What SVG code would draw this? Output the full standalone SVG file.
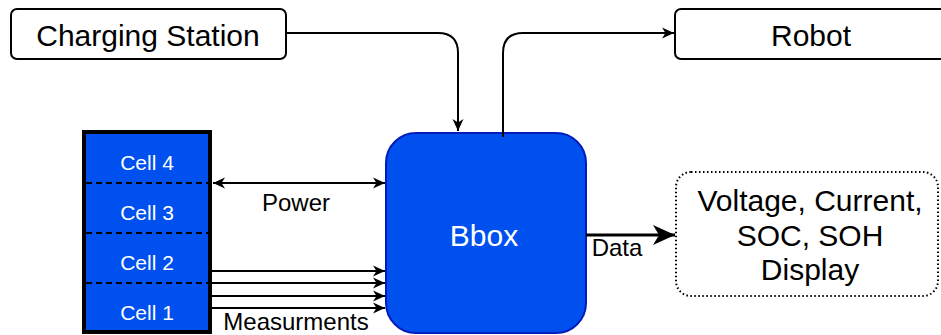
<svg xmlns="http://www.w3.org/2000/svg" width="941" height="335" viewBox="0 0 941 335">
<style>
text{font-family:"Liberation Sans",Arial,sans-serif;text-anchor:middle}
.box{fill:#fff;stroke:#000;stroke-width:2}
.lbl{font-size:30px;fill:#000}
.cell{fill:#0050EF;stroke:none}
.ctext{font-size:21px;fill:#fff}
.sep{stroke:#000;stroke-width:2;stroke-dasharray:6 4}
.conn{fill:none;stroke:#000;stroke-width:2}
.small{font-size:24px;fill:#000}
</style>
<defs>
<marker id="ah" markerUnits="userSpaceOnUse" markerWidth="14" markerHeight="12" refX="12" refY="6" orient="auto-start-reverse">
<path d="M0,0.5 L12,6 L0,11.5 L3.5,6 Z" fill="#000"/>
</marker>
<marker id="ahb" markerUnits="userSpaceOnUse" markerWidth="24" markerHeight="20" refX="22" refY="10" orient="auto">
<path d="M0,0 L22,10 L0,20 L6,10 Z" fill="#000"/>
</marker>
</defs>
<g id="charging-station">
<rect class="box" x="11" y="9" width="275" height="50" rx="6"/>
<text class="lbl" x="148" y="46">Charging Station</text>
</g>
<g id="robot">
<rect class="box" x="675" y="9" width="280" height="50" rx="6"/>
<text class="lbl" x="811" y="46">Robot</text>
</g>
<g id="bbox">
<rect x="386" y="133" width="200" height="200" rx="30" fill="#0050EF" stroke="#001DBC" stroke-width="2"/>
<text class="lbl" x="484" y="246" style="fill:#fff">Bbox</text>
</g>
<g id="display">
<rect x="676" y="172" width="262" height="124" rx="15" fill="#fff" stroke="#000" stroke-width="2" stroke-dasharray="1.5 2.5"/>
<text class="lbl" x="810" y="211">Voltage, Current,</text>
<text class="lbl" x="810" y="246">SOC, SOH</text>
<text class="lbl" x="810" y="280">Display</text>
</g>
<g id="battery">
<rect class="cell" x="84" y="132" width="126" height="201"/>
<line class="sep" x1="86" y1="183" x2="208" y2="183"/>
<line class="sep" x1="86" y1="233" x2="208" y2="233"/>
<line class="sep" x1="86" y1="283" x2="208" y2="283"/>
<rect x="84" y="132" width="126" height="200" fill="none" stroke="#000" stroke-width="4"/>
<text class="ctext" x="147" y="169.5">Cell 4</text>
<text class="ctext" x="147" y="219.5">Cell 3</text>
<text class="ctext" x="147" y="269.5">Cell 2</text>
<text class="ctext" x="147" y="319.5">Cell 1</text>
</g>
<g id="connectors">
<path class="conn" d="M286,33 H438 Q458,33 458,53 V131" marker-end="url(#ah)"/>
<path class="conn" d="M503,137 V53 Q503,33 523,33 H674" marker-end="url(#ah)"/>
<path class="conn" d="M213,183 H385" marker-start="url(#ah)" marker-end="url(#ah)"/>
<path class="conn" d="M212,271 H385" marker-end="url(#ah)"/>
<path class="conn" d="M212,283 H385" marker-end="url(#ah)"/>
<path class="conn" d="M212,296 H385" marker-end="url(#ah)"/>
<path class="conn" d="M212,308 H385" marker-end="url(#ah)"/>
<path d="M586,235 H675" fill="none" stroke="#000" stroke-width="3" marker-end="url(#ahb)"/>
<text class="small" x="296" y="211">Power</text>
<text class="small" x="296" y="330">Measurments</text>
<text class="small" x="617" y="256">Data</text>
</g>
</svg>
